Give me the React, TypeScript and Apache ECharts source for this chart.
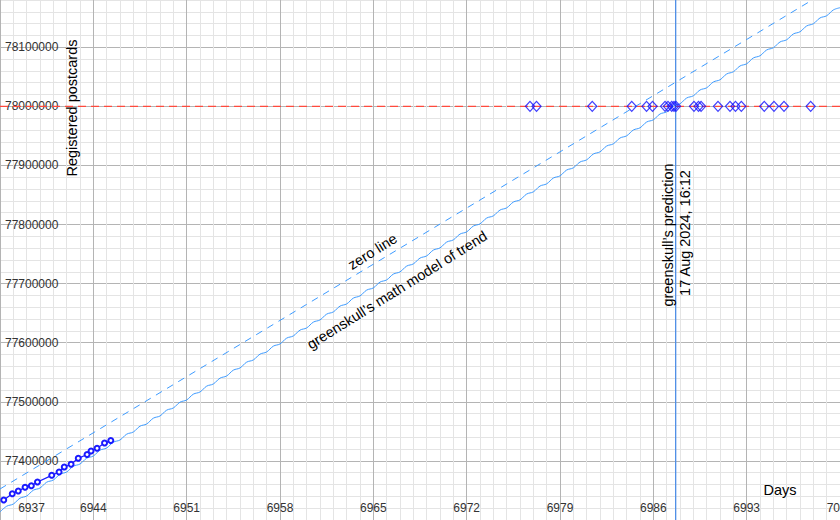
import React, { useEffect, useRef } from "react";
import * as echarts from "echarts";

// ---- data ----
const xTickMin = 6937;
const xTickMax = 7000;
const yMinValue = 77300000;
const yMaxValue = 78200000;
const targetValue = 78000000;
const predictionDay = 6987.675;

const zeroLineDays = [6937, 7000];
const zeroLineValues = [77352500, 78208300];

const observedDays = [
  6937.28, 6937.92, 6938.37, 6938.88, 6939.35, 6939.81, 6940.88, 6941.43,
  6941.82, 6942.33, 6942.87, 6943.53, 6943.83, 6944.28, 6944.84, 6945.31,
];
const observedValues = [
  77333800, 77344500, 77349100, 77355300, 77357900, 77364300, 77375600, 77381200,
  77389700, 77394300, 77404400, 77410800, 77416800, 77421300, 77430300, 77434500,
];

const guessDays = [
  6976.75, 6977.24, 6981.42, 6984.38, 6985.49, 6985.94, 6986.88, 6987.1, 6987.38,
  6987.55, 6987.7, 6989.05, 6989.39, 6989.58, 6990.85, 6991.75, 6992.16, 6992.6,
  6994.32, 6995.05, 6995.8, 6997.8,
];

const modelDays = [
  6937, 6937.5, 6938, 6938.5, 6939, 6939.5, 6940, 6940.5, 6941, 6941.5,
  6942, 6942.5, 6943, 6943.5, 6944, 6944.5, 6945, 6945.5, 6946, 6946.5,
  6947, 6947.5, 6948, 6948.5, 6949, 6949.5, 6950, 6950.5, 6951, 6951.5,
  6952, 6952.5, 6953, 6953.5, 6954, 6954.5, 6955, 6955.5, 6956, 6956.5,
  6957, 6957.5, 6958, 6958.5, 6959, 6959.5, 6960, 6960.5, 6961, 6961.5,
  6962, 6962.5, 6963, 6963.5, 6964, 6964.5, 6965, 6965.5, 6966, 6966.5,
  6967, 6967.5, 6968, 6968.5, 6969, 6969.5, 6970, 6970.5, 6971, 6971.5,
  6972, 6972.5, 6973, 6973.5, 6974, 6974.5, 6975, 6975.5, 6976, 6976.5,
  6977, 6977.5, 6978, 6978.5, 6979, 6979.5, 6980, 6980.5, 6981, 6981.5,
  6982, 6982.5, 6983, 6983.5, 6984, 6984.5, 6985, 6985.5, 6986, 6986.5,
  6987, 6987.5, 6988, 6988.5, 6989, 6989.5, 6990, 6990.5, 6991, 6991.5,
  6992, 6992.5, 6993, 6993.5, 6994, 6994.5, 6995, 6995.5, 6996, 6996.5,
  6997, 6997.5, 6998, 6998.5, 6999, 6999.5, 7000,
];
const modelValues = [
  77313500, 77323300, 77327046, 77336846, 77340592, 77350392, 77354138, 77363938, 77367684, 77377484,
  77381230, 77391030, 77394776, 77404576, 77408322, 77418122, 77421868, 77431668, 77435414, 77445214,
  77448960, 77458760, 77462506, 77472306, 77476052, 77485852, 77489598, 77499398, 77503144, 77512944,
  77516690, 77526490, 77530236, 77540036, 77543782, 77553582, 77557328, 77567128, 77570874, 77580674,
  77584420, 77594220, 77597966, 77607766, 77611512, 77621312, 77625058, 77634858, 77638604, 77648404,
  77652150, 77661950, 77665696, 77675496, 77679242, 77689042, 77692788, 77702588, 77706334, 77716134,
  77719880, 77729680, 77733426, 77743226, 77746972, 77756772, 77760518, 77770318, 77774064, 77783864,
  77787610, 77797410, 77801156, 77810956, 77814702, 77824502, 77828248, 77838048, 77841794, 77851594,
  77855340, 77865140, 77868886, 77878686, 77882432, 77892232, 77895978, 77905778, 77909524, 77919324,
  77923070, 77932870, 77936616, 77946416, 77950162, 77959962, 77963708, 77973508, 77977254, 77987054,
  77990800, 78000600, 78004346, 78014146, 78017892, 78027692, 78031438, 78041238, 78044984, 78054784,
  78058530, 78068330, 78072076, 78081876, 78085622, 78095422, 78099168, 78108968, 78112714, 78122514,
  78126260, 78136060, 78139806, 78149606, 78153352, 78163152, 78166898,
];

const FONT = "Liberation Sans";
const LIGHT_BLUE = "#3d9bff";

export default function App() {
  const ref = useRef<HTMLDivElement>(null);

  useEffect(() => {
    if (!ref.current) return;
    const chart = echarts.init(ref.current, null, { renderer: "svg" });
    const textStyle = (text: string) => ({
      text,
      fontSize: 14.5,
      fontFamily: FONT,
      fill: "#000",
      align: "center",
      verticalAlign: "middle",
    });
    const deg = Math.PI / 180;
    chart.setOption({
      animation: false,
      backgroundColor: "#fff",
      grid: {
        left: 0,
        right: 0,
        top: -11.818,
        bottom: 0,
        containLabel: false,
        outerBoundsMode: "none",
      },
      xAxis: {
        type: "value",
        min: xTickMin,
        max: xTickMax,
        interval: 7,
        axisLine: { show: false },
        axisTick: { show: false },
        axisLabel: {
          inside: true,
          margin: 6,
          color: "#333",
          fontSize: 12,
          fontFamily: FONT,
          formatter: (v: number) => (v === xTickMin ? "{first|" + v + "}" : String(v)),
          rich: {
            first: { padding: [0, 0, 0, 63], color: "#333", fontSize: 12, fontFamily: FONT },
          },
        },
        splitLine: { show: true, lineStyle: { color: "#b4b4b4", width: 1 } },
        minorTick: { show: false, splitNumber: 7 },
        minorSplitLine: { show: true, lineStyle: { color: "#e4e4e4", width: 1 } },
      },
      yAxis: {
        type: "value",
        min: yMinValue,
        max: yMaxValue,
        interval: 100000,
        axisLine: { show: false },
        axisTick: { show: false },
        axisLabel: {
          inside: true,
          margin: 5,
          color: "#333",
          fontSize: 12,
          fontFamily: FONT,
          showMinLabel: false,
          showMaxLabel: false,
          formatter: (v: number) => String(v),
        },
        splitLine: { show: true, lineStyle: { color: "#b4b4b4", width: 1 } },
        minorTick: { show: false, splitNumber: 5 },
        minorSplitLine: { show: true, lineStyle: { color: "#e4e4e4", width: 1 } },
      },
      series: [
        {
          type: "line",
          name: "target",
          data: [
            [xTickMin, targetValue],
            [xTickMax, targetValue],
          ],
          symbol: "none",
          lineStyle: { color: "#ff4a3d", width: 1.2, type: [8, 5] },
          z: 2,
        },
        {
          type: "line",
          name: "zero line",
          data: zeroLineDays.map((d, i) => [d, zeroLineValues[i]]),
          symbol: "none",
          lineStyle: { color: LIGHT_BLUE, width: 1, type: [7, 6] },
          z: 3,
        },
        {
          type: "line",
          name: "model",
          data: modelDays.map((d, i) => [d, modelValues[i]]),
          symbol: "none",
          smooth: 0.4,
          lineStyle: { color: LIGHT_BLUE, width: 1 },
          z: 3,
        },
        {
          type: "line",
          name: "prediction",
          data: [
            [predictionDay, yMinValue],
            [predictionDay, yMaxValue],
          ],
          symbol: "none",
          lineStyle: { color: "#4f8fe6", width: 1.3 },
          z: 4,
        },
        {
          type: "line",
          name: "observed",
          data: observedDays.map((d, i) => [d, observedValues[i]]),
          symbol: "emptyCircle",
          symbolSize: 5,
          showSymbol: true,
          lineStyle: { color: "#1a1aff", width: 1.3 },
          itemStyle: { color: "#1a1aff", borderWidth: 1.3 },
          z: 5,
        },
        {
          type: "scatter",
          name: "guesses",
          data: guessDays.map((d) => [d, targetValue]),
          symbol: "diamond",
          symbolSize: [9, 10],
          itemStyle: { color: "rgba(0,0,0,0)", borderColor: "#1010ff", borderWidth: 1.3 },
          z: 6,
        },
      ],
      graphic: [
        { type: "text", x: 71.5, y: 108, rotation: Math.PI / 2, style: textStyle("Registered postcards"), z: 10 },
        { type: "text", x: 780, y: 490, style: textStyle("Days"), z: 10 },
        { type: "text", x: 372.5, y: 251.5, rotation: 32 * deg, style: textStyle("zero line"), z: 10 },
        {
          type: "text",
          x: 397,
          y: 290,
          rotation: 32 * deg,
          style: textStyle("greenskull\u2019s math model of trend"),
          z: 10,
        },
        { type: "text", x: 668, y: 235, rotation: Math.PI / 2, style: textStyle("greenskull\u2019s prediction"), z: 10 },
        { type: "text", x: 685, y: 233, rotation: Math.PI / 2, style: textStyle("17 Aug 2024, 16:12"), z: 10 },
      ],
    });
    return () => chart.dispose();
  }, []);

  return (
    <div
      ref={ref}
      style={{ position: "fixed", left: 0, top: 0, width: 840, height: 520, background: "#fff" }}
    />
  );
}
